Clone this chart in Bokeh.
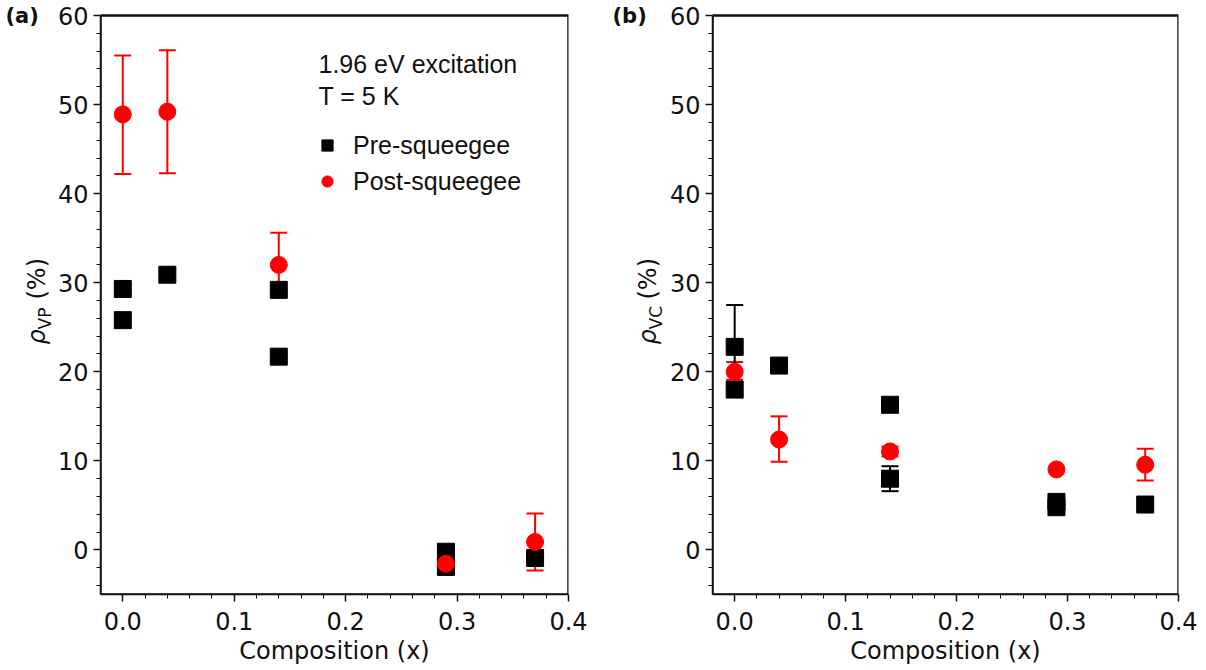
import math
from bokeh.plotting import figure
from bokeh.layouts import row
from bokeh.core.properties import value
from bokeh.models import (Label, Legend, LegendItem, FixedTicker, BoxAnnotation,
                          NumeralTickFormatter, Range1d)
from bokeh.embed import file_html
from bokeh.resources import INLINE

# ---------------- data ----------------
x_major = [0.0, 0.1, 0.2, 0.3, 0.4]
y_major = [0, 10, 20, 30, 40, 50, 60]

# panel (a): rho_VP
a_pre_x = [0.0, 0.0, 0.04, 0.14, 0.14, 0.29, 0.29, 0.37]
a_pre_y = [29.3, 25.8, 30.9, 29.2, 21.7, -0.2, -1.9, -0.9]
a_pre_lo = [29.3, 25.8, 30.9, 29.2, 21.7, -0.2, -1.9, -0.9]
a_pre_hi = [29.3, 25.8, 30.9, 29.2, 21.7, -0.2, -1.9, -0.9]
a_post_x = [0.0, 0.04, 0.14, 0.29, 0.37]
a_post_y = [48.9, 49.2, 32.0, -1.55, 0.9]
a_post_lo = [42.2, 42.3, 28.4, -1.55, -2.3]
a_post_hi = [55.5, 56.1, 35.6, -1.55, 4.1]

# panel (b): rho_VC
b_pre_x = [0.0, 0.0, 0.04, 0.14, 0.14, 0.29, 0.29, 0.37]
b_pre_y = [22.8, 18.0, 20.7, 16.3, 8.0, 5.4, 4.8, 5.1]
b_pre_lo = [18.1, 18.0, 20.7, 16.3, 6.6, 5.4, 4.8, 5.1]
b_pre_hi = [27.5, 18.0, 20.7, 16.3, 9.4, 5.4, 4.8, 5.1]
b_post_x = [0.0, 0.04, 0.14, 0.29, 0.37]
b_post_y = [20.0, 12.4, 11.06, 9.04, 9.56]
b_post_lo = [19.1, 9.9, 10.5, 9.04, 7.8]
b_post_hi = [21.1, 15.0, 11.6, 9.04, 11.36]

legend_labels = ["Pre-squeegee", "Post-squeegee"]
note_lines = ["1.96 eV excitation", "T = 5 K"]

X_LO, X_HI = -0.02, 0.4
Y_LO, Y_HI = -5, 60
TOP = 3                      # frame top (px); the box itself starts at y = 60
PX_PER_UNIT = 579 / 65.0
Y_VIEW_TOP = Y_HI + (15 - TOP) / PX_PER_UNIT

TICK_FONT = "DejaVu Sans"
FS = "24px"
RED = "#ff0000"
BLK = "#000000"
TXT = "#111111"


def errbars(p, xs, lo, hi, color):
    ex = [x for x, l, h in zip(xs, lo, hi) if h > l]
    el = [l for x, l, h in zip(xs, lo, hi) if h > l]
    eh = [h for x, l, h in zip(xs, lo, hi) if h > l]
    if not ex:
        return
    p.segment(x0=ex, y0=el, x1=ex, y1=eh, line_color=color, line_width=2)
    p.scatter(x=ex, y=el, marker="dash", size=17, line_color=color, line_width=2)
    p.scatter(x=ex, y=eh, marker="dash", size=17, line_color=color, line_width=2)


def label_fig(width, tag, tag_x, base_x, sub):
    # pixel strip: data y = 670 - canvas y (frame is aligned to TOP..594)
    f = figure(width=width, height=670, x_range=Range1d(0, width),
               y_range=Range1d(76, 670 - TOP), output_backend="svg",
               toolbar_location=None, x_axis_type=None, y_axis_type=None,
               min_border=0, min_border_left=0, min_border_right=0,
               min_border_top=TOP, min_border_bottom=76, title=None)
    f.outline_line_color = None
    f.xgrid.visible = False
    f.ygrid.visible = False
    f.background_fill_color = "white"
    f.border_fill_color = "white"
    f.text(x=[tag_x], y=[670 - 15], text=[tag], text_font=value(TICK_FONT),
           text_font_style="bold", text_font_size="21px",
           text_baseline="alphabetic", text_align="left", text_color=TXT)
    f.text(x=[base_x - 9], y=[670 - 344], text=["ρ"], angle=math.pi / 2,
           text_font=value(TICK_FONT), text_font_style="italic",
           text_font_size=FS, text_baseline="alphabetic", text_align="left",
           text_color=TXT)
    f.text(x=[base_x - 1], y=[670 - 329], text=[sub], angle=math.pi / 2,
           text_font=value(TICK_FONT), text_font_size="17px",
           text_baseline="alphabetic", text_align="left", text_color=TXT)
    f.text(x=[base_x - 9], y=[670 - 299], text=["(%)"], angle=math.pi / 2,
           text_font=value(TICK_FONT), text_font_size=FS,
           text_baseline="alphabetic", text_align="left", text_color=TXT)
    return f


def make_panel(pre, post, width, bl, br):
    p = figure(width=width, height=670, x_range=Range1d(X_LO, X_HI),
               y_range=Range1d(Y_LO, Y_VIEW_TOP), output_backend="svg",
               toolbar_location=None, min_border_left=bl,
               min_border_right=br, min_border_top=TOP, min_border_bottom=76)
    p.background_fill_color = "white"
    p.border_fill_color = "white"
    p.xgrid.visible = False
    p.ygrid.visible = False
    p.outline_line_color = None
    p.add_layout(BoxAnnotation(left=X_LO, right=X_HI, bottom=Y_LO, top=Y_HI,
                               fill_alpha=0, line_color=TXT, line_width=2.5,
                               line_alpha=1))

    p.xaxis.ticker = FixedTicker(ticks=x_major,
                                 minor_ticks=[round(0.02 * i, 2) for i in range(1, 20)])
    p.yaxis.ticker = FixedTicker(ticks=y_major,
                                 minor_ticks=[v for v in range(-4, 60, 2) if v % 10 != 0])
    p.yaxis.bounds = (Y_LO, Y_HI)
    p.xaxis.formatter = NumeralTickFormatter(format="0.0")
    for ax in (p.xaxis, p.yaxis):
        ax.axis_line_color = TXT
        ax.axis_line_width = 1.5
        ax.major_tick_line_color = TXT
        ax.major_tick_line_width = 1.5
        ax.minor_tick_line_color = TXT
        ax.minor_tick_line_width = 1
        ax.major_tick_in = 0
        ax.major_tick_out = 7
        ax.minor_tick_in = 0
        ax.minor_tick_out = 4
        ax.major_label_text_font = TICK_FONT
        ax.major_label_text_font_size = FS
        ax.major_label_text_color = TXT
    p.xaxis.major_label_standoff = 10
    p.yaxis.major_label_standoff = 5
    p.xaxis.axis_label = "Composition (x)"
    p.xaxis.axis_label_text_font = TICK_FONT
    p.xaxis.axis_label_text_font_size = FS
    p.xaxis.axis_label_text_font_style = "normal"
    p.xaxis.axis_label_text_color = TXT
    p.xaxis.axis_label_standoff = 4

    px, py, plo, phi = pre
    qx, qy, qlo, qhi = post
    errbars(p, qx, qlo, qhi, RED)
    errbars(p, px, plo, phi, BLK)
    r_pre = p.scatter(x=px, y=py, marker="square", size=17,
                      fill_color=BLK, line_color=BLK)
    r_post = p.scatter(x=qx, y=qy, marker="circle", size=17,
                       fill_color=RED, line_color=RED)
    return p, r_pre, r_post


la = label_fig(54, "(a)", 5, 45, "VP")
pa, ra_pre, ra_post = make_panel((a_pre_x, a_pre_y, a_pre_lo, a_pre_hi),
                                 (a_post_x, a_post_y, a_post_lo, a_post_hi),
                                 546, 46, 32)
lb = label_fig(66, "(b)", 12, 56, "VC")
pb, rb_pre, rb_post = make_panel((b_pre_x, b_pre_y, b_pre_lo, b_pre_hi),
                                 (b_post_x, b_post_y, b_post_lo, b_post_hi),
                                 540, 44, 28)

for i, line in enumerate(note_lines):
    pa.add_layout(Label(x=218, y=531 - 32 * i, x_units="screen", y_units="screen",
                        text=line, text_font="Liberation Sans",
                        text_font_size="25px", text_baseline="alphabetic",
                        text_align="left", text_color=TXT))

legend = Legend(items=[LegendItem(label=legend_labels[0], renderers=[ra_pre]),
                       LegendItem(label=legend_labels[1], renderers=[ra_post])],
                location=(213, 395), orientation="vertical",
                border_line_color=None, background_fill_alpha=0,
                padding=0, margin=0, spacing=0,
                glyph_width=28, glyph_height=36, label_height=36,
                label_standoff=12, label_text_font="Liberation Sans",
                label_text_font_size="25px", label_text_color=TXT)
pa.add_layout(legend)

layout = row(la, pa, lb, pb)
open("out.html", "w").write(file_html(layout, INLINE))
